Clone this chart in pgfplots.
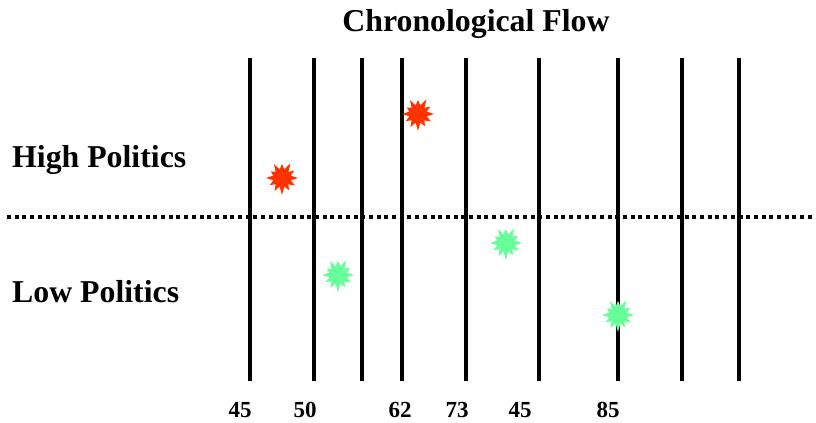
\documentclass[border=0pt]{standalone}
\usepackage{fontspec}
\setmainfont{Liberation Serif}
\usepackage{pgfplots}
\pgfplotsset{compat=1.18}

\definecolor{hiRed}{HTML}{FF3300}
\definecolor{loGreen}{HTML}{66FF99}

% irregular starburst mark
\pgfdeclareplotmark{burst}{%
  \pgfpathmoveto{\pgfpointpolar{0}{16bp}}%
  \pgfpathlineto{\pgfpointpolar{15}{9bp}}%
  \pgfpathlineto{\pgfpointpolar{30}{14bp}}%
  \pgfpathlineto{\pgfpointpolar{45}{9bp}}%
  \pgfpathlineto{\pgfpointpolar{60}{17bp}}%
  \pgfpathlineto{\pgfpointpolar{75}{9bp}}%
  \pgfpathlineto{\pgfpointpolar{90}{14bp}}%
  \pgfpathlineto{\pgfpointpolar{105}{9bp}}%
  \pgfpathlineto{\pgfpointpolar{120}{16bp}}%
  \pgfpathlineto{\pgfpointpolar{135}{9bp}}%
  \pgfpathlineto{\pgfpointpolar{150}{13bp}}%
  \pgfpathlineto{\pgfpointpolar{165}{9bp}}%
  \pgfpathlineto{\pgfpointpolar{180}{16bp}}%
  \pgfpathlineto{\pgfpointpolar{195}{9bp}}%
  \pgfpathlineto{\pgfpointpolar{210}{14bp}}%
  \pgfpathlineto{\pgfpointpolar{225}{9bp}}%
  \pgfpathlineto{\pgfpointpolar{240}{15bp}}%
  \pgfpathlineto{\pgfpointpolar{255}{9bp}}%
  \pgfpathlineto{\pgfpointpolar{270}{17bp}}%
  \pgfpathlineto{\pgfpointpolar{285}{9bp}}%
  \pgfpathlineto{\pgfpointpolar{300}{14bp}}%
  \pgfpathlineto{\pgfpointpolar{315}{9bp}}%
  \pgfpathlineto{\pgfpointpolar{330}{15bp}}%
  \pgfpathlineto{\pgfpointpolar{345}{9bp}}%
  \pgfpathclose
  \pgfusepathqfill
}

\newcommand\bigbf{\bfseries\fontsize{31.8bp}{36bp}\selectfont}
\newcommand\tickbf{\bfseries\fontsize{23bp}{26bp}\selectfont}

\begin{document}
\begin{tikzpicture}
  \useasboundingbox (0,0) rectangle (816bp,423bp);
  \begin{axis}[
      scale only axis,
      width=816bp, height=423bp,
      xmin=0, xmax=816, ymin=0, ymax=423,
      hide axis,
      clip=false,
    ]
    % time dividers
    \addplot[black, line width=3.5bp] coordinates {(250,42) (250,365)};
    \addplot[black, line width=3.5bp] coordinates {(314,42) (314,365)};
    \addplot[black, line width=3.5bp] coordinates {(362,42) (362,365)};
    \addplot[black, line width=3.5bp] coordinates {(402,42) (402,365)};
    \addplot[black, line width=3.5bp] coordinates {(466,42) (466,365)};
    \addplot[black, line width=3.5bp] coordinates {(539,42) (539,365)};
    \addplot[black, line width=3.5bp] coordinates {(618,42) (618,365)};
    \addplot[black, line width=3.5bp] coordinates {(682,42) (682,365)};
    \addplot[black, line width=3.5bp] coordinates {(739,42) (739,365)};
    % high/low divider
    \addplot[black, line width=4.5bp, dash pattern=on 4bp off 3.7bp]
      coordinates {(7,206) (816,206)};

    % events
    \addplot[only marks, mark=burst, mark options={fill=hiRed, draw=none}]
      coordinates {(282,245) (418,309)};
    \addplot[only marks, mark=burst, mark options={fill=loGreen, draw=none}]
      coordinates {(338,148) (506,180) (618,108)};

    % text
    \node[anchor=base, font=\bigbf] at (axis cs:476,391) {Chronological Flow};
    \node[anchor=base west, inner sep=0pt, font=\bigbf] at (axis cs:12,255) {High Politics};
    \node[anchor=base west, inner sep=0pt, font=\bigbf] at (axis cs:12,120) {Low Politics};
    \node[anchor=base, font=\tickbf] at (axis cs:240,6) {45};
    \node[anchor=base, font=\tickbf] at (axis cs:305,6) {50};
    \node[anchor=base, font=\tickbf] at (axis cs:400,6) {62};
    \node[anchor=base, font=\tickbf] at (axis cs:457,6) {73};
    \node[anchor=base, font=\tickbf] at (axis cs:520,6) {45};
    \node[anchor=base, font=\tickbf] at (axis cs:608,6) {85};
  \end{axis}
\end{tikzpicture}
\end{document}
